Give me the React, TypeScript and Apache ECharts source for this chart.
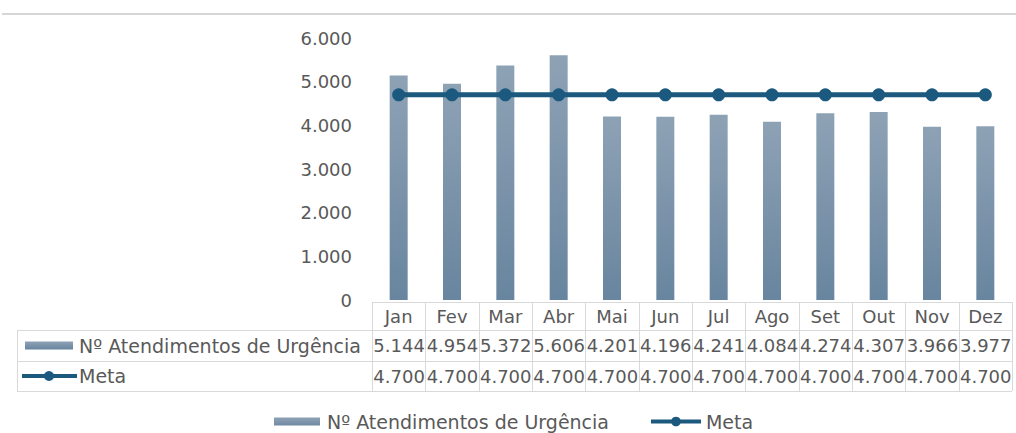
import React, { useEffect, useRef } from "react";
import * as echarts from "echarts";

// Monthly data
const months = ["Jan", "Fev", "Mar", "Abr", "Mai", "Jun", "Jul", "Ago", "Set", "Out", "Nov", "Dez"];
const atendimentos = [5144, 4954, 5372, 5606, 4201, 4196, 4241, 4084, 4274, 4307, 3966, 3977];
const meta = [4700, 4700, 4700, 4700, 4700, 4700, 4700, 4700, 4700, 4700, 4700, 4700];
const yTicks = { min: 0, max: 6000, interval: 1000 };

const SERIES_BAR = "Nº Atendimentos de Urgência";
const SERIES_LINE = "Meta";

// Layout
const W = 1016;
const H = 433;
const PLOT_LEFT = 372;
const PLOT_RIGHT = 1012;
const PLOT_TOP = 38;
const PLOT_BOTTOM = 300;
const TABLE_LEFT = 17;
const ROW_Y = [302, 330, 361, 391];

const FONT = "DejaVu Sans";
const TEXT = "#595959";
const BORDER = "#d9d9d9";
const LINE_COLOR = "#1b5a7e";
const barGradient = () =>
  new echarts.graphic.LinearGradient(0, 0, 0, 1, [
    { offset: 0, color: "#8ea2b5" },
    { offset: 1, color: "#68859f" },
  ]);

// bar swatch: 46x8 rectangle inside a 50x12 box
const BAR_ICON = "path://M0,0M2,2H48V10H2ZM50,12";

const fmt = (v: number) => String(v).replace(/\B(?=(\d{3})+(?!\d))/g, ".");

function buildTable(): any[] {
  const els: any[] = [];
  const cellW = (PLOT_RIGHT - PLOT_LEFT) / months.length;
  const line = (x1: number, y1: number, x2: number, y2: number) => ({
    type: "line",
    shape: { x1, y1, x2, y2 },
    style: { stroke: BORDER, lineWidth: 1 },
    silent: true,
  });
  // horizontal rules
  els.push(line(PLOT_LEFT, ROW_Y[0] + 0.5, PLOT_RIGHT, ROW_Y[0] + 0.5));
  for (let r = 1; r < ROW_Y.length; r++) {
    els.push(line(TABLE_LEFT, ROW_Y[r] + 0.5, PLOT_RIGHT, ROW_Y[r] + 0.5));
  }
  // vertical rules
  els.push(line(TABLE_LEFT + 0.5, ROW_Y[1], TABLE_LEFT + 0.5, ROW_Y[3]));
  for (let i = 0; i <= months.length; i++) {
    const x = Math.round(PLOT_LEFT + i * cellW) + 0.5;
    els.push(line(x, ROW_Y[0], x, ROW_Y[3]));
  }
  const rowMid = (r: number) => (ROW_Y[r] + ROW_Y[r + 1]) / 2;
  // row header keys
  els.push({
    type: "rect",
    shape: { x: 25, y: rowMid(1) - 4, width: 48, height: 8 },
    style: { fill: barGradient() },
    silent: true,
  });
  els.push({
    type: "line",
    shape: { x1: 22, y1: rowMid(2), x2: 77, y2: rowMid(2) },
    style: { stroke: LINE_COLOR, lineWidth: 4 },
    silent: true,
  });
  els.push({
    type: "circle",
    shape: { cx: 49, cy: rowMid(2), r: 5 },
    style: { fill: LINE_COLOR },
    silent: true,
  });
  const label = (text: string, x: number, y: number, align: string, size: number) => ({
    type: "text",
    x,
    y,
    style: {
      text,
      fill: TEXT,
      font: `${size}px "${FONT}"`,
      align,
      verticalAlign: "middle",
    },
    silent: true,
  });
  els.push(label(SERIES_BAR, 79, rowMid(1), "left", 19));
  els.push(label(SERIES_LINE, 79, rowMid(2), "left", 19));
  // values, right aligned in each month cell
  for (let i = 0; i < months.length; i++) {
    const xr = PLOT_LEFT + (i + 1) * cellW - 0.5;
    els.push(label(fmt(atendimentos[i]), xr, rowMid(1), "right", 18));
    els.push(label(fmt(meta[i]), xr, rowMid(2), "right", 18));
  }
  // top rule
  els.push({
    type: "line",
    shape: { x1: 2, y1: 14, x2: W, y2: 14 },
    style: { stroke: "#d6d6d6", lineWidth: 2 },
    silent: true,
  });
  return els;
}

export default function App() {
  const ref = useRef<HTMLDivElement>(null);

  useEffect(() => {
    if (!ref.current) return;
    const chart = echarts.init(ref.current, null, { renderer: "svg" });
    chart.setOption({
      animation: false,
      backgroundColor: "#ffffff",
      textStyle: { fontFamily: FONT, color: TEXT },
      grid: {
        left: PLOT_LEFT,
        right: W - PLOT_RIGHT,
        top: PLOT_TOP,
        bottom: H - PLOT_BOTTOM,
        containLabel: false,
      },
      legend: {
        left: 267,
        top: 407,
        padding: 5,
        itemWidth: 50,
        itemHeight: 12,
        itemGap: 40,
        textStyle: { fontFamily: FONT, fontSize: 19, color: TEXT },
        data: [
          { name: SERIES_BAR, icon: BAR_ICON },
          { name: SERIES_LINE, lineStyle: { width: 4 } },
        ],
      },
      xAxis: {
        type: "category",
        data: months,
        axisLine: { show: false },
        axisTick: { show: false },
        axisLabel: { margin: 7, fontFamily: FONT, fontSize: 18, color: TEXT },
      },
      yAxis: {
        type: "value",
        min: yTicks.min,
        max: yTicks.max,
        interval: yTicks.interval,
        splitLine: { show: false },
        axisLine: { show: false },
        axisTick: { show: false },
        axisLabel: {
          margin: 20,
          fontFamily: FONT,
          fontSize: 18,
          color: TEXT,
          formatter: (v: number) => fmt(v),
        },
      },
      series: [
        {
          name: SERIES_BAR,
          type: "bar",
          data: atendimentos,
          barWidth: 18,
          itemStyle: { color: barGradient() },
        },
        {
          name: SERIES_LINE,
          type: "line",
          data: meta,
          z: 5,
          symbol: "circle",
          symbolSize: 13,
          lineStyle: { color: LINE_COLOR, width: 5 },
          itemStyle: { color: LINE_COLOR },
        },
      ],
      graphic: buildTable(),
    });
    return () => chart.dispose();
  }, []);

  return (
    <div
      ref={ref}
      style={{ position: "absolute", left: 0, top: 0, width: W, height: H }}
    />
  );
}
